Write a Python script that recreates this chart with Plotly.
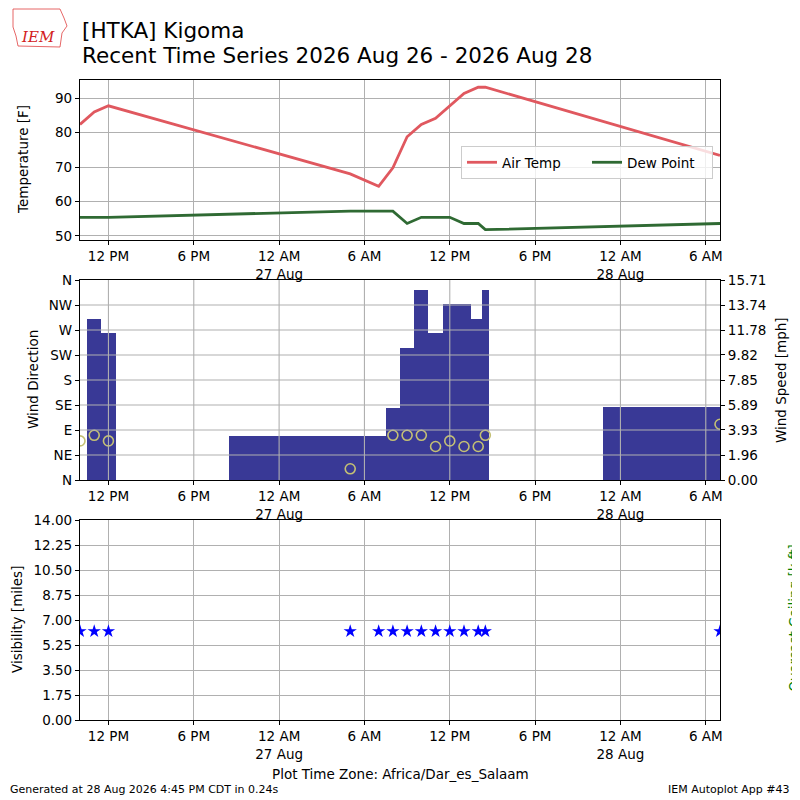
import plotly.graph_objects as go
import pandas as pd

# observation times (local, Africa/Dar_es_Salaam)
TIMES = ['2026-08-26 10:00', '2026-08-26 11:00', '2026-08-26 12:00',
         '2026-08-27 05:00', '2026-08-27 07:00', '2026-08-27 08:00',
         '2026-08-27 09:00', '2026-08-27 10:00', '2026-08-27 11:00',
         '2026-08-27 12:00', '2026-08-27 13:00', '2026-08-27 14:00',
         '2026-08-27 14:30', '2026-08-28 07:00']
AIR_TEMP = [82.4, 86.0, 87.8, 68.0, 64.4, 69.8, 78.8, 82.4, 84.2, 87.8,
            91.4, 93.2, 93.2, 73.4]
DEW_POINT = [55.4, 55.4, 55.4, 57.2, 57.2, 57.2, 53.6, 55.4, 55.4, 55.4,
             53.6, 53.6, 51.8, 53.6]
WIND_DIR = [None, 290, 265, 80, None, 130, 238, 342, 265, 317, 317, 290,
            342, 132]
WIND_SPEED = [3.07, 3.51, 3.07, 0.88, None, 3.51, 3.51, 3.51, 2.63, 3.07,
              2.63, 2.63, 3.51, 4.38]
VISIBILITY = [6.21] * 14

X_TICKS = ['2026-08-26 12:00', '2026-08-26 18:00', '2026-08-27 00:00',
           '2026-08-27 06:00', '2026-08-27 12:00', '2026-08-27 18:00',
           '2026-08-28 00:00', '2026-08-28 06:00']
X_LABELS = ['12 PM', '6 PM', '12 AM<br>27 Aug', '6 AM', '12 PM', '6 PM',
            '12 AM<br>28 Aug', '6 AM']
TEMP_TICKS = [50, 60, 70, 80, 90]
DIR_TICKS = [0, 45, 90, 135, 180, 225, 270, 315, 360]
DIR_LABELS = ['N', 'NE', 'E', 'SE', 'S', 'SW', 'W', 'NW', 'N']
SPEED_TICKS = [0.00, 1.96, 3.93, 5.89, 7.85, 9.82, 11.78, 13.74, 15.71]
VIS_TICKS = [0, 1.75, 3.5, 5.25, 7.0, 8.75, 10.5, 12.25, 14.0]
CEIL_TICKS = [0, 0.00688, 0.01375, 0.02063, 0.0275, 0.03438, 0.04125,
              0.04813, 0.055]

RED = '#e0585f'
GREEN = '#2f6a33'
BAR_BLUE = '#393996'
KHAKI = '#c4c074'
GRID = '#b0b0b0'
FONT = 'DejaVu Sans'
TICK_SIZE = 13.5

# page body has an 8px margin, so the figure is drawn 8px smaller
OFF = 8
W = H = 800 - OFF
ML, MT = 80 - OFF, 80 - OFF
MR, MB = 80, 80


def px(x):
    # screen pixel -> paper fraction
    return (x - 80) / 640


def py(y):
    return (720 - y) / 640


times = pd.to_datetime(pd.Series(TIMES))
# each bar spans the gap back to the previous observation
bar_width = times.diff().dt.total_seconds().fillna(0) * 1000

fig = go.Figure()
fig.add_trace(go.Scatter(x=times, y=AIR_TEMP, name='Air Temp', mode='lines',
                         line=dict(color=RED, width=2.8), xaxis='x', yaxis='y'))
fig.add_trace(go.Scatter(x=times, y=DEW_POINT, name='Dew Point', mode='lines',
                         line=dict(color=GREEN, width=2.8), xaxis='x', yaxis='y'))
fig.add_trace(go.Bar(x=times, y=WIND_DIR, width=bar_width, marker_color=BAR_BLUE,
                     marker_line_width=0, showlegend=False,
                     xaxis='x2', yaxis='y2'))
fig.add_trace(go.Scatter(x=times, y=WIND_SPEED, mode='markers', showlegend=False,
                         marker=dict(symbol='circle-open', size=10, color=KHAKI,
                                     line=dict(width=1.6, color=KHAKI)),
                         xaxis='x2', yaxis='y4'))
fig.add_trace(go.Scatter(x=times, y=VISIBILITY, mode='markers', showlegend=False,
                         marker=dict(symbol='star', size=10, color='blue',
                                     line=dict(width=0)),
                         xaxis='x3', yaxis='y3'))

xaxis_common = dict(range=[times.iloc[0], times.iloc[-1]], tickvals=X_TICKS,
                    ticktext=X_LABELS, showgrid=True, gridcolor=GRID,
                    gridwidth=1.1, showline=True, linecolor='black',
                    linewidth=1.2, mirror=True, ticks='outside', ticklen=4,
                    tickcolor='black', zeroline=False)
yaxis_common = dict(showgrid=True, gridcolor=GRID, gridwidth=1.1,
                    showline=True, linecolor='black', linewidth=1.2,
                    mirror=True, ticks='outside', ticklen=4,
                    tickcolor='black', zeroline=False)

# grid of the wind panel sits above the bars
shapes = []
for t in X_TICKS:
    shapes.append(dict(type='line', layer='above', xref='x2', yref='y2 domain',
                       x0=t, x1=t, y0=0, y1=1,
                       line=dict(color=GRID, width=1.1)))
for d in DIR_TICKS[1:-1]:
    shapes.append(dict(type='line', layer='above', xref='x2 domain', yref='y2',
                       x0=0, x1=1, y0=d, y1=d,
                       line=dict(color=GRID, width=1.1)))
# rough state outline behind the logo text
outline = [(13, 9), (60, 9), (64, 18), (67, 26), (62, 33), (60, 47),
           (18, 46), (16, 36), (13, 27)]
path = 'M ' + ' L '.join('{},{}'.format(px(a), py(b)) for a, b in outline) + ' Z'
shapes.append(dict(type='path', xref='paper', yref='paper', layer='above',
                   path=path, line=dict(color='#e04040', width=0.8)))

annotations = [
    dict(text='<i>IEM</i>', x=px(38), y=py(37),
         font=dict(family='DejaVu Serif', size=15, color='#d22020')),
    dict(text='[HTKA] Kigoma', x=px(80), y=py(30), xanchor='left',
         font=dict(family=FONT, size=21.5, color='black')),
    dict(text='Recent Time Series 2026 Aug 26 - 2026 Aug 28', x=px(80),
         y=py(56), xanchor='left',
         font=dict(family=FONT, size=21.5, color='black')),
    dict(text='Temperature [F]', x=px(23), y=py(160), textangle=-90),
    dict(text='Wind Direction', x=px(33), y=py(380), textangle=-90),
    dict(text='Wind Speed [mph]', x=px(781), y=py(380), textangle=-90),
    dict(text='Visibility [miles]', x=px(17), y=py(620), textangle=-90),
    dict(text='Overcast Ceiling [k ft]', x=px(793.5), y=py(618), textangle=-90,
         font=dict(family=FONT, size=TICK_SIZE, color='green')),
    dict(text='Plot Time Zone: Africa/Dar_es_Salaam', x=px(400), y=py(774)),
    dict(text='Generated at 28 Aug 2026 4:45 PM CDT in 0.24s', x=px(8),
         y=py(789), xanchor='left', font=dict(family=FONT, size=11, color='black')),
    dict(text='IEM Autoplot App #43', x=px(792), y=py(789), xanchor='right',
         font=dict(family=FONT, size=11, color='black')),
]
for a in annotations:
    a.setdefault('xref', 'paper')
    a.setdefault('yref', 'paper')
    a.setdefault('showarrow', False)
    a.setdefault('xanchor', 'center')
    a.setdefault('yanchor', 'middle')
    a.setdefault('font', dict(family=FONT, size=TICK_SIZE, color='black'))

fig.update_layout(
    width=W, height=H,
    margin=dict(l=ML, r=MR, t=MT, b=MB),
    paper_bgcolor='white', plot_bgcolor='white',
    font=dict(family=FONT, size=TICK_SIZE, color='black'),
    barmode='overlay', bargap=0,
    showlegend=True,
    legend=dict(orientation='h', x=px(713), xanchor='right', y=py(146),
                yanchor='top', bgcolor='rgba(255,255,255,0.8)',
                bordercolor='#cccccc', borderwidth=1, entrywidth=80,
                font=dict(family=FONT, size=TICK_SIZE)),
    xaxis=dict(xaxis_common, domain=[0, 1], anchor='y'),
    xaxis2=dict(xaxis_common, domain=[0, 1], anchor='y2', matches='x',
                showgrid=False),
    xaxis3=dict(xaxis_common, domain=[0, 1], anchor='y3', matches='x'),
    yaxis=dict(yaxis_common, domain=[py(240), py(80)], anchor='x',
               range=[48.8, 95.3], tickvals=TEMP_TICKS),
    yaxis2=dict(yaxis_common, domain=[py(480), py(280)], anchor='x2',
                range=[0, 360], tickvals=DIR_TICKS, ticktext=DIR_LABELS,
                showgrid=False),
    yaxis3=dict(yaxis_common, domain=[py(720), py(520)], anchor='x3',
                range=[0, 14], tickvals=VIS_TICKS, tickformat='.2f'),
    yaxis4=dict(yaxis_common, overlaying='y2', side='right', anchor='x2',
                range=[0, 15.71], tickvals=SPEED_TICKS, tickformat='.2f',
                showgrid=False, mirror=False),
    yaxis5=dict(yaxis_common, overlaying='y3', side='right', anchor='x3',
                range=[0, 0.055], tickvals=CEIL_TICKS, tickformat='.5f',
                showgrid=False, mirror=False),
    shapes=shapes,
    annotations=annotations,
)

fig.write_html('out.html')
